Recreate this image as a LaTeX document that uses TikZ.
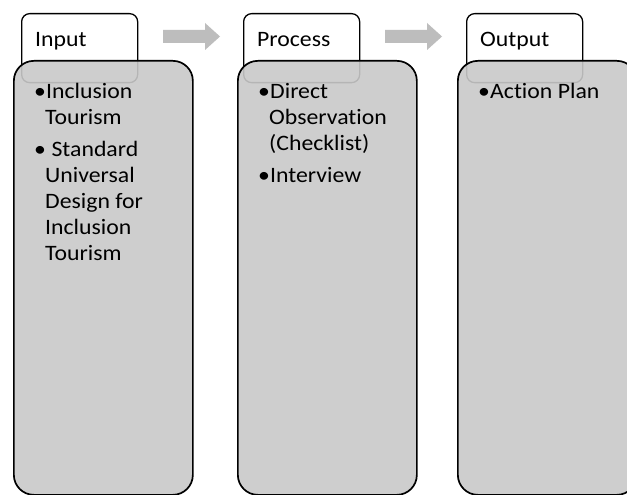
\documentclass[tikz,border=0pt]{standalone}
\usepackage{fontspec}
\setmainfont{Carlito}[FakeStretch=1.08, Ligatures=NoCommon]
\definecolor{panelgray}{HTML}{C9C9C9}
\definecolor{arrowgray}{HTML}{BDBDBD}
\newcommand\bul{\makebox[12pt][l]{•}}
\newcommand\ind{\hspace*{11pt}}
\newcommand\blockarrow[2]{% #1 = left x, #2 = name
  \fill[flowarrow] (#1,30) coordinate (#2) -- ++(42,0) -- ++(0,-7) -- ++(15,13.5)
    -- ++(-15,13.5) -- ++(0,-7) -- ++(-42,0) -- cycle;}
\begin{document}
\begin{tikzpicture}[x=1pt,y=-1pt,
  tabbox/.style={draw=black, line width=1.3pt, fill=white, rounded corners=8pt,
    minimum width=116pt, minimum height=69pt, anchor=north west, inner sep=0pt},
  panel/.style={draw=black, line width=1.7pt, fill=panelgray, fill opacity=0.9,
    rounded corners=20pt, minimum width=179pt, minimum height=434pt,
    anchor=north west, inner sep=0pt},
  flowarrow/.style={fill=arrowgray, draw=none},
  label/.style={anchor=base west, inner sep=0pt, font=\fontsize{22}{26}\selectfont},
  listtext/.style={anchor=base west, inner sep=0pt}
]
\useasboundingbox (0,0) rectangle (627,495);
\clip (0,0) rectangle (627,495);
\fill[white] (0,0) rectangle (627,495);

% tabs
\node[tabbox] (tabIn) at (21,13) {};
\node[tabbox] (tabProc) at (243,13) {};
\node[tabbox] (tabOut) at (466,13) {};

% block arrows
\fill[flowarrow] (163,30) -- (205,30) -- (205,23) -- (220,36.5) -- (205,50) -- (205,43) -- (163,43) -- cycle;
\fill[flowarrow] (385,30) -- (427,30) -- (427,23) -- (442,36.5) -- (427,50) -- (427,43) -- (385,43) -- cycle;

% panels
\node[panel] (boxIn) at (13,60) {};
\node[panel] (boxProc) at (237,60) {};
\node[panel] (boxOut) at (457,60) {};

% tab labels
\node[label] (tabInText) at (35,47) {Input};
\node[label] (tabProcText) at (257,47) {Process};
\node[label] (tabOutText) at (480,47) {Output};

% lists
\node[listtext] (listIn) at (34,99) {\parbox[t]{155pt}{\fontsize{22}{26}\selectfont
  \bul Inclusion\\
  \ind Tourism\\[6pt]
  \bul\ Standard\\
  \ind Universal\\
  \ind Design for\\
  \ind Inclusion\\
  \ind Tourism}};
\node[listtext] (listProc) at (258,99) {\parbox[t]{155pt}{\fontsize{22}{26}\selectfont
  \bul Direct\\
  \ind Observation\\
  \ind (Checklist)\\[6pt]
  \bul Interview}};
\node[listtext] (listOut) at (478,99) {\parbox[t]{155pt}{\fontsize{22}{26}\selectfont
  \bul Action Plan}};
\end{tikzpicture}
\end{document}
